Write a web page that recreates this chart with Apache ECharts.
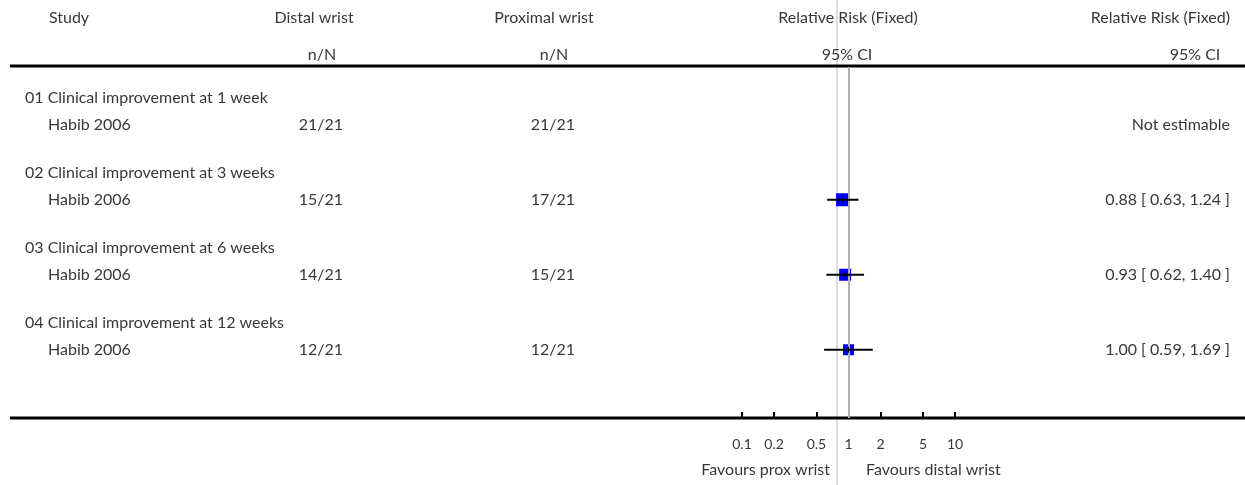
<!DOCTYPE html>
<html>
<head>
<meta charset="utf-8">
<script src="https://cdn.jsdelivr.net/npm/echarts@6.0.0/dist/echarts.min.js"></script>
<style>
  html, body { margin: 0; padding: 0; background: #fff; }
  #chart { width: 1245px; height: 485px; }
</style>
</head>
<body>
<div id="chart"></div>
<script>
// data
const groups = [
  '01 Clinical improvement at 1 week',
  '02 Clinical improvement at 3 weeks',
  '03 Clinical improvement at 6 weeks',
  '04 Clinical improvement at 12 weeks'
]
const studies = ['Habib 2006', 'Habib 2006', 'Habib 2006', 'Habib 2006']
const distal = ['21/21', '15/21', '14/21', '12/21']
const proximal = ['21/21', '17/21', '15/21', '12/21']
const rr = [null, 0.88, 0.93, 1.00]
const ciLow = [null, 0.63, 0.62, 0.59]
const ciHigh = [null, 1.24, 1.40, 1.69]
const tickValues = [0.1, 0.2, 0.5, 1, 2, 5, 10]

// styles
const boxSize = [0, 13, 12, 11]
const FAMILY = 'Lato, "Open Sans", sans-serif'
const FONT = '16px ' + FAMILY
const TXT = '#383838'

const chart = echarts.init(document.getElementById('chart'))

const points = []
const ciData = []
rr.forEach((v, i) => {
  if (v == null) return
  points.push({ value: [v, i + 1], symbolSize: boxSize[i] })
  ciData.push([ciLow[i], ciHigh[i], i + 1, v])
})

chart.setOption({
  animation: false,
  grid: { left: 742, right: 290, top: 67, bottom: 67 },
  xAxis: {
    type: 'log',
    logBase: 10,
    min: 0.1,
    max: 10,
    axisLine: { show: false },
    splitLine: { show: false },
    axisTick: {
      inside: true,
      length: 6,
      customValues: tickValues,
      lineStyle: { color: '#000', width: 2 }
    },
    axisLabel: {
      customValues: tickValues,
      margin: 19,
      color: TXT,
      fontFamily: FAMILY,
      fontSize: 14,
      formatter: v => String(+v.toPrecision(2))
    }
  },
  yAxis: { type: 'value', inverse: true, min: 0.23, max: 4.91, show: false },
  series: [
    {
      // line of no effect, kept under the boxes
      type: 'scatter',
      z: 1,
      data: [],
      markLine: {
        silent: true,
        symbol: 'none',
        label: { show: false },
        lineStyle: { color: '#b0b0b0', width: 2, type: 'solid' },
        data: [{ xAxis: 1 }]
      }
    },
    {
      type: 'scatter',
      symbol: 'rect',
      itemStyle: { color: '#0000ff', opacity: 1 },
      data: points,
      z: 4
    },
    {
      type: 'custom',
      z: 5,
      data: ciData,
      renderItem: (params, api) => {
        const a = api.coord([api.value(0), api.value(2)])
        const b = api.coord([api.value(1), api.value(2)])
        const c = api.coord([api.value(3), api.value(2)])
        return {
          type: 'group',
          children: [
            { type: 'line', shape: { x1: a[0], y1: a[1], x2: b[0], y2: b[1] }, style: { stroke: '#000', lineWidth: 2 } },
            { type: 'line', shape: { x1: c[0], y1: c[1] - 3, x2: c[0], y2: c[1] + 3 }, style: { stroke: '#000', lineWidth: 1 } }
          ]
        }
      }
    }
  ]
})

// text table, placed on the chart's own row scale
const rowY = v => chart.convertToPixel({ yAxisIndex: 0 }, v)
const txt = (text, x, y, align) => ({
  type: 'text', x, y, silent: true,
  style: { text, fill: TXT, font: FONT, textAlign: align || 'left', textVerticalAlign: 'middle' }
})
const line = (x1, y1, x2, y2, stroke, w) => ({
  type: 'line', silent: true, z: 0, shape: { x1, y1, x2, y2 }, style: { stroke, lineWidth: w }
})

const graphic = [
  line(837, 0, 837, 485, '#dedede', 2),
  line(10, 66, 1245, 66, '#000', 3),
  line(10, 418, 1245, 418, '#000', 3),
  txt('Study', 69, 18, 'center'),
  txt('Distal wrist', 314, 18, 'center'),
  txt('n/N', 322, 55, 'center'),
  txt('Proximal wrist', 544, 18, 'center'),
  txt('n/N', 554, 55, 'center'),
  txt('Relative Risk (Fixed)', 848, 18, 'center'),
  txt('95% CI', 847, 55, 'center'),
  txt('Relative Risk (Fixed)', 1230, 18, 'right'),
  txt('95% CI', 1195, 55, 'center'),
  txt('Favours prox wrist', 830, 470, 'right'),
  txt('Favours distal wrist', 866, 470, 'left')
]

groups.forEach((g, i) => {
  const yh = rowY(i + 1 - 0.36)
  const ys = rowY(i + 1)
  const res = rr[i] == null
    ? 'Not estimable'
    : rr[i].toFixed(2) + ' [ ' + ciLow[i].toFixed(2) + ', ' + ciHigh[i].toFixed(2) + ' ]'
  graphic.push(
    txt(g, 25, yh),
    txt(studies[i], 48, ys),
    txt(distal[i], 343, ys, 'right'),
    txt(proximal[i], 575, ys, 'right'),
    txt(res, 1230, ys, 'right')
  )
})

chart.setOption({ graphic })
</script>
</body>
</html>
